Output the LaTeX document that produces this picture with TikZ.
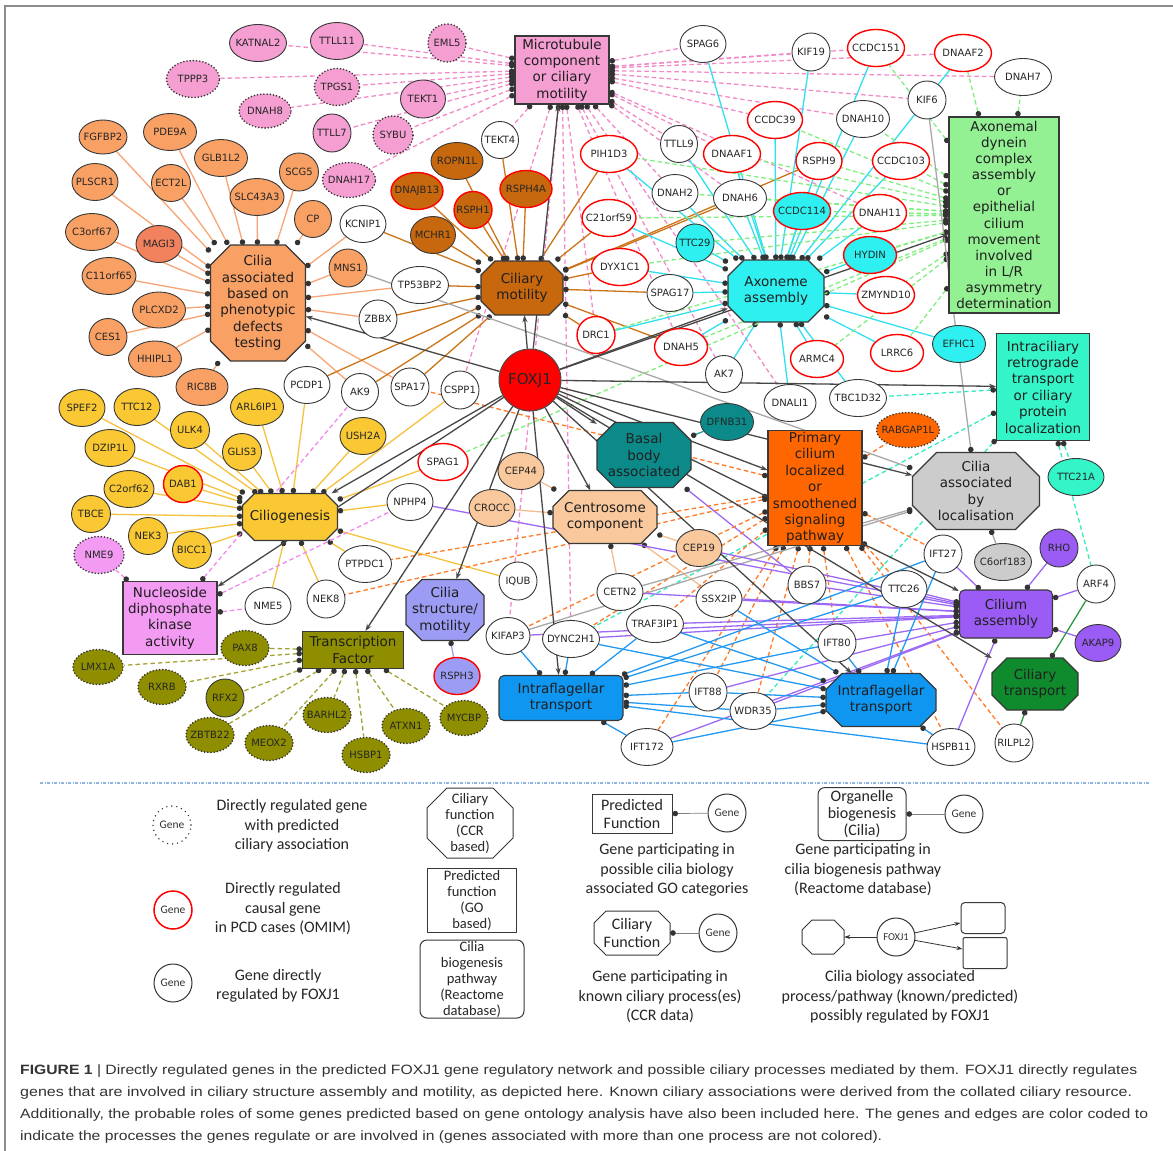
\documentclass[tikz,border=0pt]{standalone}
\usepackage{fontspec}
\setmainfont{DejaVu Sans}
\newfontfamily\legfont{Carlito}
\newfontfamily\capfont{Liberation Sans}
\usetikzlibrary{shapes.geometric,arrows.meta}
\pgfdeclarelayer{bg}
\pgfsetlayers{bg,main}
% node fills
\definecolor{cPink}{HTML}{F59ED2}
\definecolor{cSalmon}{HTML}{F9A064}
\definecolor{cMagi}{HTML}{F2825E}
\definecolor{cBrown}{HTML}{C8680E}
\definecolor{cCyan}{HTML}{2EF0F0}
\definecolor{cLGreen}{HTML}{93F093}
\definecolor{cAqua}{HTML}{33F5C8}
\definecolor{cYellow}{HTML}{F9C832}
\definecolor{cMag}{HTML}{F39AF2}
\definecolor{cOlive}{HTML}{8E8E00}
\definecolor{cLPurp}{HTML}{9C9CF5}
\definecolor{cBlue}{HTML}{0E96F0}
\definecolor{cTeal}{HTML}{0C8A8A}
\definecolor{cPeach}{HTML}{F9C89C}
\definecolor{cOrange}{HTML}{FF6600}
\definecolor{cGray}{HTML}{CCCCCC}
\definecolor{cPurple}{HTML}{9B5CF5}
\definecolor{cGreen}{HTML}{0F8A2C}
% edge colours
\definecolor{lPink}{HTML}{F28AC8}
\definecolor{lSalmon}{HTML}{F8A474}
\definecolor{lBrown}{HTML}{CC7418}
\definecolor{lCyan}{HTML}{30E0F0}
\definecolor{lLGreen}{HTML}{7FEF7F}
\definecolor{lAqua}{HTML}{30EBC0}
\definecolor{lYellow}{HTML}{F6C23C}
\definecolor{lMag}{HTML}{F08AF0}
\definecolor{lOlive}{HTML}{A3A335}
\definecolor{lLPurp}{HTML}{9C9CF0}
\definecolor{lBlue}{HTML}{2299F2}
\definecolor{lTeal}{HTML}{1BA0A0}
\definecolor{lPeach}{HTML}{F2BE90}
\definecolor{lOrange}{HTML}{FF7A26}
\definecolor{lGray}{HTML}{A8A8A8}
\definecolor{lPurple}{HTML}{9D68F5}
\definecolor{lGreen}{HTML}{2A9A3C}
\definecolor{lDot}{HTML}{8DB4E2}
\newcommand\genefont{\fontsize{10}{10}\selectfont}
\newcommand\catfont{\fontsize{13.5}{16.4}\selectfont}
\newcommand\gn[6]{\node[gene,minimum width=#4,minimum height=#5,#6] (#1) at (#2,#3) {\makebox[0pt]{#1}};}
% octagon: name, x, y, w, h, chamfer, style
\newcommand\octo[7]{%
  \node[inner sep=0pt,minimum width=#4,minimum height=#5] (#1) at (#2,#3) {};
  \filldraw[#7] ({#2-#4/2+#6},{#3-#5/2}) -- ({#2+#4/2-#6},{#3-#5/2}) -- ({#2+#4/2},{#3-#5/2+#6})
    -- ({#2+#4/2},{#3+#5/2-#6}) -- ({#2+#4/2-#6},{#3+#5/2}) -- ({#2-#4/2+#6},{#3+#5/2})
    -- ({#2-#4/2},{#3+#5/2-#6}) -- ({#2-#4/2},{#3-#5/2+#6}) -- cycle;}
\tikzset{
  gene/.style={ellipse,inner sep=0pt,font=\genefont,text=black!85,line width=0.9pt},
  sb/.style={draw=black!78},
  rb/.style={draw=red,line width=1.4pt},
  db/.style={draw=black!80,line width=1.8pt,dash pattern=on 0pt off 3.2pt,line cap=round},
  cat/.style={draw=black!78,line width=1.1pt,inner sep=0pt},
  octs/.style={draw=black!78,line width=1.1pt,fill=#1},
  ctext/.style={align=center,font=\catfont,text=black!88,inner sep=0pt},
  e/.style={line width=1.3pt,arrows={Circle[length=5.5pt,color=black!80,fill=black!80]-}},
  ed/.style={e,dash pattern=on 4.5pt off 3pt},
  fx/.style={line width=1.3pt,draw=black!72,arrows={-Stealth[length=7pt,width=5pt]}},
  ltext/.style={align=center,font=\legfont\fontsize{16}{19.5}\selectfont,text=black!85,inner sep=0pt},
  lstext/.style={align=center,font=\legfont\fontsize{14.5}{16}\selectfont,text=black!85,inner sep=0pt},
  lgene/.style={circle,inner sep=0pt,minimum size=38,draw=black!80,line width=1pt,font=\legfont\fontsize{11.5}{12}\selectfont,text=black!80},
}
\begin{document}
\begin{tikzpicture}[x=1pt,y=-1pt]
\useasboundingbox (0,0) rectangle (1173,1151);
\begin{pgfonlayer}{bg}
\fill[white] (0,0) rectangle (1173,1151);
\end{pgfonlayer}
\draw[black!45,line width=1.5pt] (5,1151) -- (5,6) -- (1173,6);

% ---------------- category nodes ----------------
\node[cat,rectangle,fill=cPink,minimum width=94,minimum height=68] (MT) at (562,70) {};
\node[ctext] at (MT) {Microtubule\\component\\or ciliary\\motility};
\octo{PHEN}{258}{303}{95}{116}{20}{octs=cSalmon}
\node[ctext] at (PHEN) {Cilia\\associated\\based on\\phenotypic\\defects\\testing};
\octo{CM}{522}{288}{82}{54}{14}{octs=cBrown}
\node[ctext] at (CM) {Ciliary\\motility};
\octo{AX}{776}{291}{96}{62}{16}{octs=cCyan}
\node[ctext] at (AX) {Axoneme\\assembly};
\node[cat,fill=cLGreen,minimum width=110,minimum height=196] (ADB) at (1004,215) {};
\node[ctext,font=\fontsize{13.5}{16.1}\selectfont] at (ADB) {Axonemal\\dynein\\complex\\assembly\\or\\epithelial\\cilium\\movement\\involved\\in L/R\\asymmetry\\determination};
\node[cat,fill=cAqua,minimum width=93,minimum height=107] (IRT) at (1043,387) {};
\node[ctext] at (IRT) {Intraciliary\\retrograde\\transport\\or ciliary\\protein\\localization};
\octo{BB}{644}{455}{94}{65}{18}{octs=cTeal}
\node[ctext] at (BB) {Basal\\body\\associated};
\octo{CC}{605}{517}{104}{53}{16}{octs=cPeach}
\node[ctext] at (CC) {Centrosome\\component};
\node[cat,fill=cOrange,minimum width=94,minimum height=115] (PC) at (815,488) {};
\node[ctext] at (PC) {Primary\\cilium\\localized\\or\\smoothened\\signaling\\pathway};
\octo{GO}{976}{491}{127}{77}{24}{octs=cGray}
\node[ctext] at (GO) {Cilia\\associated\\by\\localisation};
\octo{CG}{290}{517}{95}{47}{12}{octs=cYellow}
\node[ctext] at (CG) {Ciliogenesis};
\node[cat,fill=cMag,minimum width=94,minimum height=73] (ND) at (170,618) {};
\node[ctext] at (ND) {Nucleoside\\diphosphate\\kinase\\activity};
\node[cat,fill=cOlive,minimum width=101,minimum height=37] (TF) at (353,650) {};
\node[ctext] at (TF) {Transcription\\Factor};
\octo{CS}{445}{610}{78}{61}{16}{octs=cLPurp}
\node[ctext] at (CS) {Cilia\\structure/\\motility};
\node[cat,rounded corners=5pt,fill=cBlue,minimum width=124,minimum height=45] (IFTB) at (561,698) {};
\node[ctext] at (IFTB) {Intraflagellar\\transport};
\octo{IFTO}{881}{700}{110}{53}{16}{octs=cBlue}
\node[ctext] at (IFTO) {Intraflagellar\\transport};
\node[cat,rounded corners=5pt,fill=cPurple,minimum width=93,minimum height=48] (CA) at (1006,614) {};
\node[ctext] at (CA) {Cilium\\assembly};
\octo{CT}{1035}{684}{86}{52}{15}{octs=cGreen}
\node[ctext] at (CT) {Ciliary\\transport};

\node[circle,fill=red,draw=black!70,line width=1pt,minimum size=62,inner sep=0pt,font=\fontsize{15}{15}\selectfont,text=black!85] (FOXJ1) at (530,380) {FOXJ1};

% ---------------- gene nodes ----------------
% pink
\gn{KATNAL2}{258}{43}{57}{37}{fill=cPink,sb}
\gn{TTLL11}{337}{41}{53}{37}{fill=cPink,sb}
\gn{EML5}{447}{43}{38}{38}{fill=cPink,db}
\gn{TPPP3}{193}{79}{53}{37}{fill=cPink,db}
\gn{TPGS1}{337}{87}{45}{37}{fill=cPink,db}
\gn{DNAH8}{265}{111}{52}{34}{fill=cPink,db}
\gn{TEKT1}{423}{99}{45}{38}{fill=cPink,sb}
\gn{TTLL7}{332}{133}{38}{38}{fill=cPink,sb}
\gn{SYBU}{393}{135}{40}{38}{fill=cPink,db}
\gn{DNAH17}{349}{180}{53}{35}{fill=cPink,db}
% salmon
\gn{FGFBP2}{103}{137}{48}{34}{fill=cSalmon,sb}
\gn{PDE9A}{170}{132}{53}{37}{fill=cSalmon,sb}
\gn{GLB1L2}{221}{158}{53}{37}{fill=cSalmon,sb}
\gn{PLSCR1}{95}{182}{46}{37}{fill=cSalmon,sb}
\gn{ECT2L}{171}{183}{39}{37}{fill=cSalmon,sb}
\gn{SLC43A3}{257}{197}{54}{37}{fill=cSalmon,sb}
\gn{SCG5}{299}{172}{39}{38}{fill=cSalmon,sb}
\gn{CP}{313}{219}{37}{37}{fill=cSalmon,sb}
\gn{C3orf67}{92}{232}{53}{37}{fill=cSalmon,sb}
\gn{MAGI3}{159}{244}{46}{37}{fill=cMagi,sb}
\gn{C11orf65}{109}{276}{54}{37}{fill=cSalmon,sb}
\gn{MNS1}{348}{268}{38}{38}{fill=cSalmon,sb}
\gn{PLCXD2}{159}{310}{53}{36}{fill=cSalmon,sb}
\gn{CES1}{108}{337}{38}{37}{fill=cSalmon,sb}
\gn{HHIPL1}{155}{359}{53}{36}{fill=cSalmon,sb}
\gn{RIC8B}{202}{387}{52}{37}{fill=cSalmon,sb}
% brown
\gn{ROPN1L}{457}{161}{52}{37}{fill=cBrown,sb}
\gn{DNAJB13}{417}{191}{52}{37}{fill=cBrown,rb}
\gn{RSPH1}{473}{210}{38}{37}{fill=cBrown,rb}
\gn{RSPH4A}{526}{189}{52}{37}{fill=cBrown,rb}
\gn{MCHR1}{433}{235}{45}{37}{fill=cBrown,sb}
% white, solid
\gn{TEKT4}{500}{140}{37}{37}{fill=white,sb}
\gn{KCNIP1}{363}{224}{46}{37}{fill=white,sb}
\gn{TP53BP2}{420}{285}{57}{37}{fill=white,sb}
\gn{ZBBX}{378}{319}{38}{38}{fill=white,sb}
\gn{PCDP1}{307}{385}{46}{37}{fill=white,sb}
\gn{AK9}{360}{392}{37}{37}{fill=white,sb}
\gn{SPA17}{410}{387}{38}{38}{fill=white,sb}
\gn{CSPP1}{460}{390}{38}{38}{fill=white,sb}
\gn{SPAG17}{670}{293}{46}{37}{fill=white,sb}
\gn{AK7}{724}{374}{37}{37}{fill=white,sb}
\gn{SPAG6}{703}{44}{46}{37}{fill=white,sb}
\gn{KIF19}{811}{52}{38}{38}{fill=white,sb}
\gn{DNAH7}{1023}{77}{57}{37}{fill=white,sb}
\gn{KIF6}{927}{100}{38}{38}{fill=white,sb}
\gn{DNAH10}{863}{119}{53}{37}{fill=white,sb}
\gn{TTLL9}{679}{144}{37}{37}{fill=white,sb}
\gn{DNAH2}{675}{193}{46}{37}{fill=white,sb}
\gn{DNAH6}{740}{198}{53}{37}{fill=white,sb}
\gn{DNALI1}{790}{403}{52}{37}{fill=white,sb}
\gn{TBC1D32}{858}{398}{57}{37}{fill=white,sb}
\gn{NPHP4}{410}{502}{46}{37}{fill=white,sb}
\gn{IQUB}{518}{581}{38}{38}{fill=white,sb}
\gn{CETN2}{620}{592}{46}{37}{fill=white,sb}
\gn{SSX2IP}{719}{599}{46}{37}{fill=white,sb}
\gn{TRAF3IP1}{655}{624}{57}{37}{fill=white,sb}
\gn{DYNC2H1}{571}{639}{57}{37}{fill=white,sb}
\gn{KIFAP3}{508}{636}{44}{37}{fill=white,sb}
\gn{IFT88}{708}{692}{38}{38}{fill=white,sb}
\gn{WDR35}{753}{711}{46}{37}{fill=white,sb}
\gn{IFT172}{647}{747}{52}{37}{fill=white,sb}
\gn{BBS7}{807}{585}{38}{38}{fill=white,sb}
\gn{TTC26}{904}{589}{46}{37}{fill=white,sb}
\gn{IFT27}{943}{554}{38}{38}{fill=white,sb}
\gn{IFT80}{837}{643}{38}{38}{fill=white,sb}
\gn{HSPB11}{951}{747}{48}{37}{fill=white,sb}
\gn{RILPL2}{1014}{743}{38}{38}{fill=white,sb}
\gn{ARF4}{1096}{584}{38}{38}{fill=white,sb}
\gn{PTPDC1}{365}{564}{53}{37}{fill=white,sb}
\gn{NME5}{268}{606}{46}{37}{fill=white,sb}
\gn{NEK8}{326}{599}{38}{38}{fill=white,sb}
% white, red border
\gn{PIH1D3}{609}{154}{57}{37}{fill=white,rb}
\gn{C21orf59}{609}{218}{54}{37}{fill=white,rb}
\gn{DYX1C1}{620}{267}{57}{37}{fill=white,rb}
\gn{DRC1}{596}{335}{38}{37}{fill=white,rb}
\gn{DNAH5}{681}{347}{53}{37}{fill=white,rb}
\gn{CCDC151}{876}{48}{57}{37}{fill=white,rb}
\gn{DNAAF2}{963}{53}{57}{37}{fill=white,rb}
\gn{CCDC39}{775}{120}{55}{37}{fill=white,rb}
\gn{DNAAF1}{732}{154}{57}{37}{fill=white,rb}
\gn{RSPH9}{819}{161}{46}{37}{fill=white,rb}
\gn{CCDC103}{901}{161}{57}{37}{fill=white,rb}
\gn{DNAH11}{880}{213}{53}{37}{fill=white,rb}
\gn{ZMYND10}{886}{295}{57}{37}{fill=white,rb}
\gn{ARMC4}{817}{359}{53}{37}{fill=white,rb}
\gn{LRRC6}{897}{353}{53}{37}{fill=white,rb}
\gn{SPAG1}{443}{462}{50}{37}{fill=white,rb}
% coloured
\gn{CCDC114}{802}{211}{57}{37}{fill=cCyan,rb}
\gn{TTC29}{695}{243}{38}{38}{fill=cCyan,sb}
\gn{HYDIN}{870}{255}{53}{37}{fill=cCyan,rb}
\gn{EFHC1}{959}{344}{53}{37}{fill=cCyan,sb}
\gn{TTC21A}{1076}{477}{56}{37}{fill=cAqua,sb}
\gn{RABGAP1L}{908}{430}{63}{35}{fill=cOrange,db}
\gn{DFNB31}{727}{422}{53}{37}{fill=cTeal,sb}
\gn{CEP44}{521}{471}{46}{37}{fill=cPeach,sb}
\gn{CROCC}{492}{508}{46}{37}{fill=cPeach,sb}
\gn{CEP19}{699}{548}{46}{37}{fill=cPeach,sb}
\gn{C6orf183}{1003}{562}{57}{37}{fill=cGray,sb}
\gn{RHO}{1059}{548}{38}{38}{fill=cPurple,sb}
\gn{AKAP9}{1098}{643}{46}{37}{fill=cPurple,sb}
\gn{RSPH3}{457}{676}{46}{37}{fill=cLPurp,rb}
% yellow
\gn{SPEF2}{82}{408}{46}{37}{fill=cYellow,sb}
\gn{TTC12}{137}{407}{46}{37}{fill=cYellow,sb}
\gn{ARL6IP1}{257}{407}{53}{37}{fill=cYellow,sb}
\gn{ULK4}{190}{430}{39}{37}{fill=cYellow,sb}
\gn{USH2A}{363}{436}{46}{37}{fill=cYellow,sb}
\gn{DZIP1L}{110}{448}{50}{37}{fill=cYellow,sb}
\gn{GLIS3}{242}{452}{39}{37}{fill=cYellow,sb}
\gn{DAB1}{183}{484}{39}{37}{fill=cYellow,rb}
\gn{C2orf62}{129}{489}{50}{37}{fill=cYellow,sb}
\gn{TBCE}{91}{514}{39}{37}{fill=cYellow,sb}
\gn{NEK3}{148}{536}{39}{37}{fill=cYellow,sb}
\gn{BICC1}{192}{550}{39}{37}{fill=cYellow,sb}
\gn{NME9}{99}{555}{50}{37}{fill=cMag,db}
% olive
\gn{PAX8}{245}{648}{48}{35}{fill=cOlive,db}
\gn{LMX1A}{98}{667}{50}{35}{fill=cOlive,db}
\gn{RXRB}{162}{687}{48}{35}{fill=cOlive,db}
\gn{RFX2}{225}{698}{38}{38}{fill=cOlive,sb}
\gn{ZBTB22}{210}{735}{48}{35}{fill=cOlive,db}
\gn{MEOX2}{269}{743}{48}{35}{fill=cOlive,db}
\gn{BARHL2}{327}{715}{48}{35}{fill=cOlive,db}
\gn{HSBP1}{366}{755}{48}{35}{fill=cOlive,db}
\gn{ATXN1}{406}{726}{48}{35}{fill=cOlive,db}
\gn{MYCBP}{464}{718}{48}{35}{fill=cOlive,db}

% ---------------- edges ----------------
\begin{pgfonlayer}{bg}
\foreach \g in {KATNAL2,TTLL11,EML5,TPPP3,TPGS1,DNAH8,TEKT1,TTLL7,SYBU,DNAH17,SPAG6,KIF19,CCDC151,DNAAF2,DNAH7,KIF6,CCDC39,DNAH10,TTLL9,DNAAF1,TEKT4,DNAH2,DNAH6,DNAH11,DNAH5,AK7,DNALI1,CSPP1,KIFAP3,DYNC2H1,DRC1}
  {\draw[ed,draw=lPink] (MT) -- (\g);}
\foreach \g in {FGFBP2,PDE9A,GLB1L2,PLSCR1,ECT2L,SLC43A3,SCG5,CP,C3orf67,MAGI3,C11orf65,PLCXD2,CES1,HHIPL1,RIC8B,MNS1,KCNIP1,TP53BP2,ZBBX,AK9,SPA17}
  {\draw[e,draw=lSalmon] (PHEN) -- (\g);}
\foreach \g in {ROPN1L,DNAJB13,RSPH1,RSPH4A,MCHR1,TEKT4,KCNIP1,TP53BP2,ZBBX,PCDP1,SPA17,AK9,PIH1D3,C21orf59,DYX1C1,SPAG17,DRC1,DNAH5,DNAH6,RSPH9}
  {\draw[e,draw=lBrown] (CM) -- (\g);}
\foreach \g in {SPAG6,KIF19,CCDC151,DNAAF2,CCDC39,DNAH10,RSPH9,CCDC103,TTLL9,DNAAF1,PIH1D3,DNAH2,DNAH6,CCDC114,DNAH11,TTC29,C21orf59,DYX1C1,SPAG17,HYDIN,ZMYND10,DRC1,DNAH5,AK7,ARMC4,LRRC6,EFHC1,DNALI1,TBC1D32}
  {\draw[e,draw=lCyan] (AX) -- (\g);}
\foreach \g in {CCDC151,DNAAF2,DNAH7,CCDC39,DNAH10,RSPH9,CCDC103,DNAAF1,PIH1D3,CCDC114,DNAH11,HYDIN,ZMYND10,DNAH5,ARMC4,LRRC6,DRC1,C21orf59,DYX1C1,TTC29,SPAG1,DNAH2,DNAH6}
  {\draw[ed,draw=lLGreen] (ADB) -- (\g);}
\foreach \g in {TBC1D32,TTC21A,ARF4,DYNC2H1,WDR35}
  {\draw[ed,draw=lAqua] (IRT) -- (\g);}
\foreach \g in {SPEF2,TTC12,ULK4,ARL6IP1,DZIP1L,GLIS3,DAB1,C2orf62,TBCE,NEK3,BICC1,USH2A,PCDP1,NME5,NEK8,PTPDC1,IQUB,CSPP1,NPHP4,SPAG1}
  {\draw[e,draw=lYellow] (CG) -- (\g);}
\foreach \g in {NME9,AK9,NPHP4,NME5}
  {\draw[ed,draw=lMag] (ND) -- (\g);}
\foreach \g in {PAX8,LMX1A,RXRB,RFX2,ZBTB22,MEOX2,BARHL2,HSBP1,ATXN1,MYCBP}
  {\draw[ed,draw=lOlive] (TF) -- (\g);}
\draw[e,draw=lLPurp] (CS) -- (RSPH3);
\draw[e,draw=lTeal] (BB) -- (DFNB31);
\draw[e,draw=lPurple] (BB) -- (BBS7);
\foreach \g in {CEP44,CROCC,CEP19,CETN2,SSX2IP}
  {\draw[e,draw=lPeach] (CC) -- (\g);}
\foreach \g in {RABGAP1L,SPA17,NEK8,PTPDC1,KIFAP3,DYNC2H1,TRAF3IP1,IFT88,WDR35,IFT172,BBS7,IFT80,TTC26,IFT27,HSPB11,RILPL2}
  {\draw[ed,draw=lOrange] (PC) -- (\g);}
\foreach \g in {KIF6,C6orf183,MNS1,CETN2,KIFAP3}
  {\draw[e,draw=lGray] (GO) -- (\g);}
\foreach \g in {BBS7,TTC26,IFT27,RHO,ARF4,AKAP9,HSPB11,TRAF3IP1,DYNC2H1,KIFAP3,CETN2,SSX2IP,NPHP4,CEP19,IFT88,WDR35,IFT172,IFT80}
  {\draw[e,draw=lPurple] (CA) -- (\g);}
\foreach \g in {KIFAP3,DYNC2H1,TRAF3IP1,IFT172,IFT88,WDR35,IFT80,TTC26,IFT27,HSPB11}
  {\draw[e,draw=lBlue] (IFTB) -- (\g);}
\foreach \g in {DYNC2H1,TRAF3IP1,IFT88,WDR35,IFT172,IFT80,TTC26,IFT27,HSPB11,SSX2IP}
  {\draw[e,draw=lBlue] (IFTO) -- (\g);}
\foreach \g in {ARF4,RILPL2}
  {\draw[e,draw=lGreen] (CT) -- (\g);}
\foreach \c in {MT,CM,AX,ADB,IRT,PHEN,CG,ND,TF,CS,IFTB,CC,BB,PC,GO,CA,CT,IFTO}
  {\draw[fx] (FOXJ1) -- (\c);}
\end{pgfonlayer}

% ---------------- legend ----------------
\draw[lDot,line width=1.3pt,dash pattern=on 3pt off 1.5pt on 1pt off 1.5pt] (40,783) -- (1150,783);

\node[lgene,draw=black!80,line width=1.6pt,dash pattern=on 0pt off 5pt,line cap=round] (LG1) at (172,825) {\makebox[0pt]{Gene}};
\node[ltext] at (292,826) {Directly regulated gene\\with predicted\\ciliary association};
\node[lgene,draw=red,line width=1.5pt] (LG2) at (173,910) {\makebox[0pt]{Gene}};
\node[ltext] at (283,909) {Directly regulated\\causal gene\\in PCD cases (OMIM)};
\node[lgene] (LG3) at (173,983) {\makebox[0pt]{Gene}};
\node[ltext] at (278,986) {Gene directly\\regulated by FOXJ1};

\octo{LO1}{470}{823}{86}{70}{20}{octs=white,line width=1pt}
\node[lstext] at (LO1) {Ciliary\\function\\(CCR\\based)};
\node[cat,line width=1pt,fill=white,minimum width=89,minimum height=64] (LR1) at (472,900) {};
\node[lstext] at (LR1) {Predicted\\function\\(GO\\based)};
\node[cat,line width=1pt,rounded corners=7pt,fill=white,minimum width=104,minimum height=78] (LR2) at (472,979) {};
\node[lstext] at (LR2) {Cilia\\biogenesis\\pathway\\(Reactome\\database)};

\node[cat,line width=1pt,fill=white,minimum width=80,minimum height=39] (LP) at (632,814) {};
\node[lstext,font=\legfont\fontsize{16}{18}\selectfont] at (LP) {Predicted\\Function};
\node[lgene] (LPg) at (727,813) {\makebox[0pt]{Gene}};
\draw[e,line width=0.7pt,draw=black!50] (LP) -- (LPg);
\node[ltext] at (667,870) {Gene participating in\\possible cilia biology\\associated GO categories};

\node[cat,line width=1pt,rounded corners=7pt,fill=white,minimum width=88,minimum height=53] (LOB) at (862,814) {};
\node[lstext,font=\legfont\fontsize{16}{17}\selectfont] at (LOB) {Organelle\\biogenesis\\(Cilia)};
\node[lgene] (LOg) at (964,814) {\makebox[0pt]{Gene}};
\draw[e,line width=0.7pt,draw=black!50] (LOB) -- (LOg);
\node[ltext] at (863,870) {Gene participating in\\cilia biogenesis pathway\\(Reactome database)};

\octo{LC}{632}{933}{76}{44}{12}{octs=white,line width=1pt}
\node[lstext,font=\legfont\fontsize{16}{18}\selectfont] at (LC) {Ciliary\\Function};
\node[lgene] (LCg) at (718,933) {\makebox[0pt]{Gene}};
\draw[e,line width=0.7pt,draw=black!50] (LC) -- (LCg);
\node[ltext] at (660,997) {Gene participating in\\known ciliary process(es)\\(CCR data)};

\octo{LX}{823}{937}{42}{34}{10}{octs=white,line width=1pt}
\node[lgene] (LF) at (896,937) {\makebox[0pt]{\fontsize{10.5}{11}\selectfont FOXJ1}};
\node[cat,line width=1pt,rounded corners=4pt,fill=white,minimum width=44,minimum height=31] (LB1) at (983,918) {};
\node[cat,line width=1pt,rounded corners=2pt,fill=white,minimum width=44,minimum height=31] (LB2) at (985,953) {};
\draw[fx,line width=0.8pt,draw=black!80,arrows={-Stealth[length=6pt,width=4pt]}] (LF) -- (LX);
\draw[fx,line width=0.8pt,draw=black!80,arrows={-Stealth[length=6pt,width=4pt]}] (LF) -- (LB1);
\draw[fx,line width=0.8pt,draw=black!80,arrows={-Stealth[length=6pt,width=4pt]}] (LF) -- (LB2);
\node[ltext] at (900,997) {Cilia biology associated\\process/pathway (known/predicted)\\possibly regulated by FOXJ1};

% ---------------- caption ----------------
\begin{scope}[every node/.style={anchor=base west,inner sep=0pt,text=black!80,font=\capfont\fontsize{13.5}{16}\selectfont}]
\node at (20,1074) {\resizebox{1117pt}{\height}{\textbf{FIGURE 1} | Directly regulated genes in the predicted FOXJ1 gene regulatory network and possible ciliary processes mediated by them. FOXJ1 directly regulates}};
\node at (20,1096) {\resizebox{1112pt}{\height}{genes that are involved in ciliary structure assembly and motility, as depicted here. Known ciliary associations were derived from the collated ciliary resource.}};
\node at (20,1118) {\resizebox{1128pt}{\height}{Additionally, the probable roles of some genes predicted based on gene ontology analysis have also been included here. The genes and edges are color coded to}};
\node at (20,1140) {\resizebox{862pt}{\height}{indicate the processes the genes regulate or are involved in (genes associated with more than one process are not colored).}};
\end{scope}
\end{tikzpicture}
\end{document}
